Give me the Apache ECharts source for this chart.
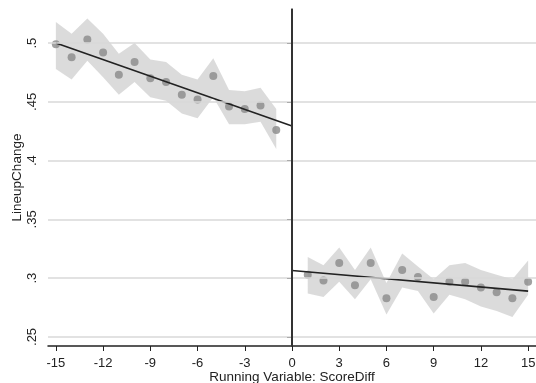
<!DOCTYPE html>
<html>
<head>
<meta charset="utf-8">
<script src="https://cdn.jsdelivr.net/npm/echarts@6/dist/echarts.min.js"></script>
<style>html,body{margin:0;padding:0;background:#fff}#c{width:536px;height:383px}</style>
</head>
<body>
<div id="c"></div>
<script>
// Data
var leftX = [-15,-14,-13,-12,-11,-10,-9,-8,-7,-6,-5,-4,-3,-2,-1];
var leftMean = [0.499,0.488,0.503,0.492,0.473,0.484,0.470,0.467,0.456,0.452,0.472,0.446,0.444,0.447,0.426];
var leftUpper = [0.518,0.508,0.521,0.508,0.491,0.500,0.486,0.484,0.473,0.469,0.487,0.460,0.459,0.462,0.444];
var leftLower = [0.478,0.469,0.485,0.471,0.456,0.467,0.454,0.451,0.440,0.436,0.454,0.431,0.431,0.433,0.410];
var rightX = [1,2,3,4,5,6,7,8,9,10,11,12,13,14,15];
var rightMean = [0.303,0.298,0.313,0.294,0.313,0.283,0.307,0.301,0.284,0.297,0.297,0.292,0.288,0.283,0.297];
var rightUpper = [0.318,0.311,0.326,0.307,0.326,0.296,0.321,0.310,0.299,0.311,0.313,0.307,0.303,0.299,0.315];
var rightLower = [0.287,0.284,0.297,0.282,0.299,0.269,0.292,0.289,0.270,0.286,0.282,0.276,0.272,0.267,0.286];
var fitLeft = [[-15,0.500],[0,0.4295]];
var fitRight = [[0,0.3065],[15,0.289]];
var xTicks = [-15,-12,-9,-6,-3,0,3,6,9,12,15];
var yTicks = [0.25,0.3,0.35,0.4,0.45,0.5];
var cutoff = 0;

function pairs(xs, ys){ return xs.map(function(x,i){return [x, ys[i]];}); }
function triples(xs, up, lo){ return xs.map(function(x,i){return [x, up[i], lo[i]];}); }
function yfmt(v){ var s = String(+v.toFixed(2)); return s.replace(/^0\./,'.'); }

var FONT = 'Liberation Sans, Arial, sans-serif';
var bandColor = 'rgba(190,190,190,0.55)';
var dotColor = '#8a8a8a';

function bandSeries(rows){
  return {
    type:'custom', data:rows, silent:true, z:2,
    encode:{x:0,y:[1,2]},
    renderItem:function(params, api){
      if (params.dataIndex !== 0) return null;
      var top = [], bot = [];
      for (var i=0;i<rows.length;i++){
        top.push(api.coord([rows[i][0], rows[i][1]]));
        bot.unshift(api.coord([rows[i][0], rows[i][2]]));
      }
      return {type:'polygon', shape:{points:top.concat(bot)}, style:{fill:bandColor, stroke:null}};
    }
  };
}

var chart = echarts.init(document.getElementById('c'));
chart.setOption({
  animation:false,
  grid:{left:48,right:0,top:9,bottom:37,containLabel:false,outerBoundsMode:'none'},
  xAxis:{
    type:'value', min:-15.5, max:15.5,
    name:'Running Variable: ScoreDiff', nameLocation:'middle', nameGap:24, nameMoveOverlap:false,
    nameTextStyle:{fontFamily:FONT,fontSize:13.5,color:'#222'},
    axisLine:{lineStyle:{color:'#222',width:1.5}},
    axisTick:{show:true,length:5,customValues:xTicks,lineStyle:{color:'#222'}},
    axisLabel:{customValues:xTicks,fontFamily:FONT,fontSize:13,color:'#222',margin:11},
    splitLine:{show:false}
  },
  yAxis:{
    type:'value', min:0.2423, max:0.529,
    name:'LineupChange', nameLocation:'middle', nameGap:24, nameMoveOverlap:false,
    nameTextStyle:{fontFamily:FONT,fontSize:13.5,color:'#222'},
    axisLine:{show:true,lineStyle:{color:'#222',width:1.5}},
    axisTick:{show:true,length:5,customValues:yTicks,lineStyle:{color:'#222'}},
    axisLabel:{customValues:yTicks,rotate:90,fontFamily:FONT,fontSize:13,color:'#222',margin:9,formatter:yfmt},
    splitLine:{show:false}
  },
  series:[
    {type:'line',data:[],symbol:'none',silent:true,z:1,
     markLine:{silent:true,symbol:['none','none'],label:{show:false},lineStyle:{color:'#d9d9d9',width:1.5,type:'solid'},
       data:yTicks.map(function(v){return {yAxis:v};})}},
    bandSeries(triples(leftX,leftUpper,leftLower)),
    bandSeries(triples(rightX,rightUpper,rightLower)),
    {type:'scatter',data:pairs(leftX,leftMean),symbolSize:8,itemStyle:{color:dotColor},z:3},
    {type:'scatter',data:pairs(rightX,rightMean),symbolSize:8,itemStyle:{color:dotColor},z:3},
    {type:'line',data:fitLeft,symbol:'none',lineStyle:{color:'#222',width:1.6},z:4},
    {type:'line',data:fitRight,symbol:'none',lineStyle:{color:'#222',width:1.6},z:4,
     markLine:{silent:true,symbol:['none','none'],label:{show:false},lineStyle:{color:'#333',width:2,type:'solid'},
       data:[{xAxis:cutoff}]}}
  ]
});
</script>
</body>
</html>
